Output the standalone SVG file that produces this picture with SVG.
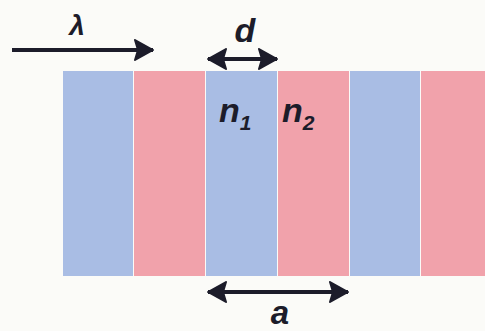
<svg xmlns="http://www.w3.org/2000/svg" width="485" height="331" viewBox="0 0 485 331">
<defs>
<style>
.b{fill:#a9bde4}
.p{fill:#f1a2ab}
.ln{stroke:#1c1c2a;stroke-width:4;fill:none}
.t{font-family:"Liberation Sans",Arial,sans-serif;font-weight:bold;font-style:italic;fill:#1c1c2a}
</style>
<marker id="ah" viewBox="0 0 20 22" refX="19" refY="11" markerWidth="20" markerHeight="22" markerUnits="userSpaceOnUse" orient="auto-start-reverse">
<path d="M1,1 L19,11 L1,21 L4,11 Z" fill="#1c1c2a" stroke="#1c1c2a" stroke-width="2" stroke-linejoin="round"/>
</marker>
</defs>
<rect width="485" height="331" fill="#fbfbf8"/>
<g id="stack">
<rect class="b" x="63" y="71" width="70" height="205"/>
<rect class="p" x="134" y="71" width="71" height="205"/>
<rect class="b" x="206" y="71" width="71" height="205"/>
<rect class="p" x="278" y="71" width="71" height="205"/>
<rect class="b" x="350" y="71" width="70" height="205"/>
<rect class="p" x="421" y="71" width="64" height="205"/>
</g>
<g id="connectors">
<line class="ln" x1="12" y1="50" x2="153" y2="50" marker-end="url(#ah)"/>
<line class="ln" x1="208" y1="59" x2="277" y2="59" marker-start="url(#ah)" marker-end="url(#ah)"/>
<line class="ln" x1="208" y1="292" x2="348" y2="292" marker-start="url(#ah)" marker-end="url(#ah)"/>
</g>
<g id="labels">
<text class="t" x="77" y="35" font-size="28" text-anchor="middle">λ</text>
<text class="t" x="245" y="42" font-size="34" text-anchor="middle">d</text>
<text class="t" x="219" y="122" font-size="34">n<tspan font-size="21" dy="8">1</tspan></text>
<text class="t" x="282" y="122" font-size="34">n<tspan font-size="21" dy="8">2</tspan></text>
<text class="t" x="280" y="324" font-size="33" text-anchor="middle">a</text>
</g>
</svg>
